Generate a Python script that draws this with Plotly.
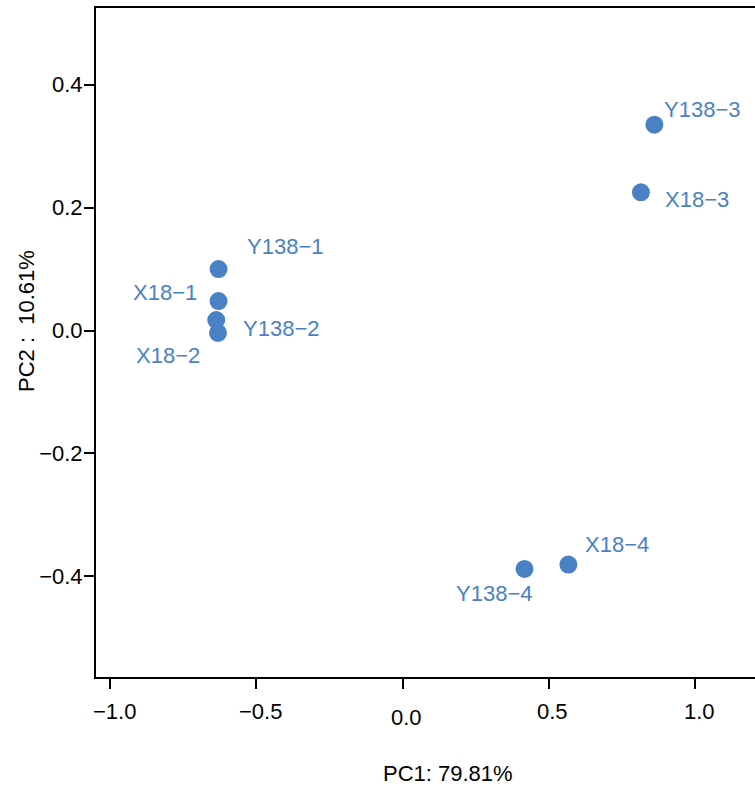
import plotly.graph_objects as go

# PCA scores of the eight samples
samples = ["Y138-3", "X18-3", "Y138-1", "X18-1", "X18-2", "Y138-2", "X18-4", "Y138-4"]
pc1 = [0.861, 0.815, -0.629, -0.629, -0.637, -0.631, 0.567, 0.417]
pc2 = [0.335, 0.225, 0.100, 0.048, 0.017, -0.004, -0.381, -0.388]

x_ticks = [-1.0, -0.5, 0.0, 0.5, 1.0]
x_tick_text = ["\u22121.0", "\u22120.5", "0.0", "0.5", "1.0"]
y_ticks = [-0.4, -0.2, 0.0, 0.2, 0.4]
y_tick_text = ["\u22120.4", "\u22120.2", "0.0", "0.2", "0.4"]

x_title = "PC1: 79.81%"
y_title = "PC2 :  10.61%"

# label offsets from each point (pixels)
label_shift = {
    "Y138-3": (48, 15),
    "X18-3": (56, -7),
    "Y138-1": (66, 23),
    "X18-1": (-54, 9),
    "X18-2": (-48, -35),
    "Y138-2": (63, 4),
    "X18-4": (49, 20),
    "Y138-4": (-31, -25),
}

BLUE = "#4A81C4"
FONT = "Liberation Sans, Arial, sans-serif"
FS = 22

W, H = 755, 787
L, T, B, R = 96, 8, 110, 0
plot_w = W - L - R
plot_h = H - T - B

fig = go.Figure()
fig.add_trace(go.Scatter(
    x=pc1, y=pc2, mode="markers",
    marker=dict(size=18, color=BLUE, line=dict(width=0)),
    hoverinfo="text", text=samples,
))

ann = []
for name, xv, yv in zip(samples, pc1, pc2):
    dx, dy = label_shift[name]
    ann.append(dict(
        x=xv, y=yv, xref="x", yref="y", text=name.replace("-", "\u2212"),
        showarrow=False, xshift=dx, yshift=dy,
        xanchor="center", yanchor="middle",
        font=dict(family=FONT, size=FS, color=BLUE),
    ))

# x tick labels (the middle one sits a little lower)
for v, t in zip(x_ticks, x_tick_text):
    ann.append(dict(
        x=v, y=0, xref="x", yref="paper", text=t, showarrow=False,
        xanchor="center", yanchor="middle", xshift=4,
        yshift=-40.5 if v == 0 else -34.5,
        font=dict(family=FONT, size=FS, color="black"),
    ))

ann.append(dict(
    x=(448 - L) / plot_w, y=0, xref="paper", yref="paper", text=x_title,
    showarrow=False, xanchor="center", yanchor="middle", yshift=-96,
    font=dict(family=FONT, size=FS, color="black"),
))
ann.append(dict(
    x=(26 - L) / plot_w, y=(H - B - 321) / plot_h, xref="paper", yref="paper",
    text=y_title, showarrow=False, textangle=-90,
    xanchor="center", yanchor="middle",
    font=dict(family=FONT, size=FS, color="black"),
))

fig.update_layout(
    width=W, height=H,
    margin=dict(l=L, r=R, t=T, b=B, pad=0),
    paper_bgcolor="white", plot_bgcolor="white",
    showlegend=False,
    annotations=ann,
    font=dict(family=FONT, size=FS, color="black"),
)
fig.update_xaxes(
    range=[-1.048, 1.205], showgrid=False, zeroline=False,
    showline=True, linecolor="black", linewidth=2, mirror=True,
    ticks="outside", ticklen=10, tickwidth=1.5, tickcolor="black",
    tickvals=x_ticks, showticklabels=False,
)
fig.update_yaxes(
    range=[-0.564, 0.525], showgrid=False, zeroline=False,
    showline=True, linecolor="black", linewidth=2, mirror=False,
    ticks="outside", ticklen=10, tickwidth=1.5, tickcolor="black",
    tickvals=y_ticks, ticktext=y_tick_text, ticklabelstandoff=-3,
    tickfont=dict(family=FONT, size=FS, color="black"),
)

fig.write_html("out.html")
